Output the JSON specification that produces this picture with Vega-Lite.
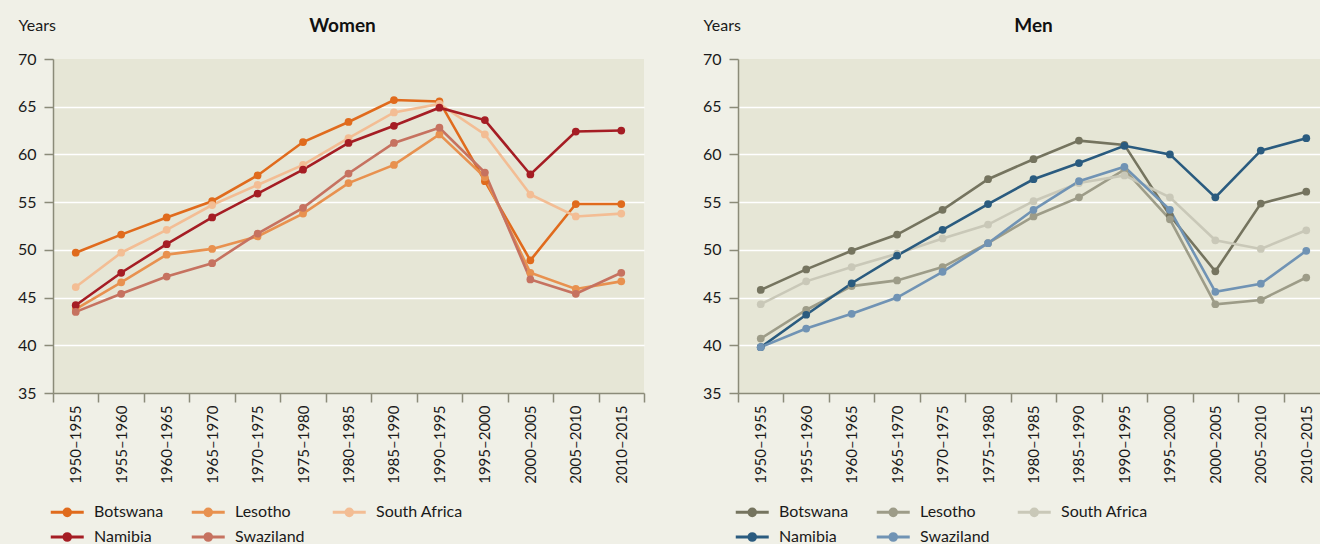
{
  "$schema": "https://vega.github.io/schema/vega-lite/v6.json",
  "background": "#f0f0e7",
  "padding": {"left": 17, "top": 17, "right": 5, "bottom": 0},
  "datasets": {
    "d": [
      {"sex":"Women","country":"Botswana","period":"1950–1955","years":49.7},
      {"sex":"Women","country":"Botswana","period":"1955–1960","years":51.6},
      {"sex":"Women","country":"Botswana","period":"1960–1965","years":53.4},
      {"sex":"Women","country":"Botswana","period":"1965–1970","years":55.1},
      {"sex":"Women","country":"Botswana","period":"1970–1975","years":57.8},
      {"sex":"Women","country":"Botswana","period":"1975–1980","years":61.3},
      {"sex":"Women","country":"Botswana","period":"1980–1985","years":63.4},
      {"sex":"Women","country":"Botswana","period":"1985–1990","years":65.7},
      {"sex":"Women","country":"Botswana","period":"1990–1995","years":65.55},
      {"sex":"Women","country":"Botswana","period":"1995–2000","years":57.2},
      {"sex":"Women","country":"Botswana","period":"2000–2005","years":48.9},
      {"sex":"Women","country":"Botswana","period":"2005–2010","years":54.8},
      {"sex":"Women","country":"Botswana","period":"2010–2015","years":54.8},
      {"sex":"Women","country":"Lesotho","period":"1950–1955","years":43.8},
      {"sex":"Women","country":"Lesotho","period":"1955–1960","years":46.6},
      {"sex":"Women","country":"Lesotho","period":"1960–1965","years":49.5},
      {"sex":"Women","country":"Lesotho","period":"1965–1970","years":50.1},
      {"sex":"Women","country":"Lesotho","period":"1970–1975","years":51.4},
      {"sex":"Women","country":"Lesotho","period":"1975–1980","years":53.8},
      {"sex":"Women","country":"Lesotho","period":"1980–1985","years":57.0},
      {"sex":"Women","country":"Lesotho","period":"1985–1990","years":58.9},
      {"sex":"Women","country":"Lesotho","period":"1990–1995","years":62.1},
      {"sex":"Women","country":"Lesotho","period":"1995–2000","years":57.6},
      {"sex":"Women","country":"Lesotho","period":"2000–2005","years":47.6},
      {"sex":"Women","country":"Lesotho","period":"2005–2010","years":45.9},
      {"sex":"Women","country":"Lesotho","period":"2010–2015","years":46.7},
      {"sex":"Women","country":"South Africa","period":"1950–1955","years":46.1},
      {"sex":"Women","country":"South Africa","period":"1955–1960","years":49.7},
      {"sex":"Women","country":"South Africa","period":"1960–1965","years":52.1},
      {"sex":"Women","country":"South Africa","period":"1965–1970","years":54.7},
      {"sex":"Women","country":"South Africa","period":"1970–1975","years":56.8},
      {"sex":"Women","country":"South Africa","period":"1975–1980","years":58.9},
      {"sex":"Women","country":"South Africa","period":"1980–1985","years":61.7},
      {"sex":"Women","country":"South Africa","period":"1985–1990","years":64.4},
      {"sex":"Women","country":"South Africa","period":"1990–1995","years":65.3},
      {"sex":"Women","country":"South Africa","period":"1995–2000","years":62.1},
      {"sex":"Women","country":"South Africa","period":"2000–2005","years":55.8},
      {"sex":"Women","country":"South Africa","period":"2005–2010","years":53.5},
      {"sex":"Women","country":"South Africa","period":"2010–2015","years":53.8},
      {"sex":"Women","country":"Namibia","period":"1950–1955","years":44.2},
      {"sex":"Women","country":"Namibia","period":"1955–1960","years":47.6},
      {"sex":"Women","country":"Namibia","period":"1960–1965","years":50.6},
      {"sex":"Women","country":"Namibia","period":"1965–1970","years":53.4},
      {"sex":"Women","country":"Namibia","period":"1970–1975","years":55.9},
      {"sex":"Women","country":"Namibia","period":"1975–1980","years":58.4},
      {"sex":"Women","country":"Namibia","period":"1980–1985","years":61.2},
      {"sex":"Women","country":"Namibia","period":"1985–1990","years":63.0},
      {"sex":"Women","country":"Namibia","period":"1990–1995","years":64.9},
      {"sex":"Women","country":"Namibia","period":"1995–2000","years":63.6},
      {"sex":"Women","country":"Namibia","period":"2000–2005","years":57.9},
      {"sex":"Women","country":"Namibia","period":"2005–2010","years":62.4},
      {"sex":"Women","country":"Namibia","period":"2010–2015","years":62.5},
      {"sex":"Women","country":"Swaziland","period":"1950–1955","years":43.5},
      {"sex":"Women","country":"Swaziland","period":"1955–1960","years":45.4},
      {"sex":"Women","country":"Swaziland","period":"1960–1965","years":47.2},
      {"sex":"Women","country":"Swaziland","period":"1965–1970","years":48.6},
      {"sex":"Women","country":"Swaziland","period":"1970–1975","years":51.7},
      {"sex":"Women","country":"Swaziland","period":"1975–1980","years":54.4},
      {"sex":"Women","country":"Swaziland","period":"1980–1985","years":58.0},
      {"sex":"Women","country":"Swaziland","period":"1985–1990","years":61.2},
      {"sex":"Women","country":"Swaziland","period":"1990–1995","years":62.8},
      {"sex":"Women","country":"Swaziland","period":"1995–2000","years":58.1},
      {"sex":"Women","country":"Swaziland","period":"2000–2005","years":46.9},
      {"sex":"Women","country":"Swaziland","period":"2005–2010","years":45.4},
      {"sex":"Women","country":"Swaziland","period":"2010–2015","years":47.6},
      {"sex":"Men","country":"Botswana","period":"1950–1955","years":45.8},
      {"sex":"Men","country":"Botswana","period":"1955–1960","years":47.95},
      {"sex":"Men","country":"Botswana","period":"1960–1965","years":49.9},
      {"sex":"Men","country":"Botswana","period":"1965–1970","years":51.6},
      {"sex":"Men","country":"Botswana","period":"1970–1975","years":54.2},
      {"sex":"Men","country":"Botswana","period":"1975–1980","years":57.4},
      {"sex":"Men","country":"Botswana","period":"1980–1985","years":59.5},
      {"sex":"Men","country":"Botswana","period":"1985–1990","years":61.45},
      {"sex":"Men","country":"Botswana","period":"1990–1995","years":61.0},
      {"sex":"Men","country":"Botswana","period":"1995–2000","years":53.6},
      {"sex":"Men","country":"Botswana","period":"2000–2005","years":47.75},
      {"sex":"Men","country":"Botswana","period":"2005–2010","years":54.85},
      {"sex":"Men","country":"Botswana","period":"2010–2015","years":56.1},
      {"sex":"Men","country":"Lesotho","period":"1950–1955","years":40.7},
      {"sex":"Men","country":"Lesotho","period":"1955–1960","years":43.7},
      {"sex":"Men","country":"Lesotho","period":"1960–1965","years":46.2},
      {"sex":"Men","country":"Lesotho","period":"1965–1970","years":46.8},
      {"sex":"Men","country":"Lesotho","period":"1970–1975","years":48.2},
      {"sex":"Men","country":"Lesotho","period":"1975–1980","years":50.7},
      {"sex":"Men","country":"Lesotho","period":"1980–1985","years":53.5},
      {"sex":"Men","country":"Lesotho","period":"1985–1990","years":55.5},
      {"sex":"Men","country":"Lesotho","period":"1990–1995","years":58.4},
      {"sex":"Men","country":"Lesotho","period":"1995–2000","years":53.2},
      {"sex":"Men","country":"Lesotho","period":"2000–2005","years":44.3},
      {"sex":"Men","country":"Lesotho","period":"2005–2010","years":44.75},
      {"sex":"Men","country":"Lesotho","period":"2010–2015","years":47.1},
      {"sex":"Men","country":"South Africa","period":"1950–1955","years":44.3},
      {"sex":"Men","country":"South Africa","period":"1955–1960","years":46.7},
      {"sex":"Men","country":"South Africa","period":"1960–1965","years":48.2},
      {"sex":"Men","country":"South Africa","period":"1965–1970","years":49.6},
      {"sex":"Men","country":"South Africa","period":"1970–1975","years":51.2},
      {"sex":"Men","country":"South Africa","period":"1975–1980","years":52.65},
      {"sex":"Men","country":"South Africa","period":"1980–1985","years":55.1},
      {"sex":"Men","country":"South Africa","period":"1985–1990","years":57.0},
      {"sex":"Men","country":"South Africa","period":"1990–1995","years":57.8},
      {"sex":"Men","country":"South Africa","period":"1995–2000","years":55.5},
      {"sex":"Men","country":"South Africa","period":"2000–2005","years":51.0},
      {"sex":"Men","country":"South Africa","period":"2005–2010","years":50.1},
      {"sex":"Men","country":"South Africa","period":"2010–2015","years":52.05},
      {"sex":"Men","country":"Namibia","period":"1950–1955","years":39.8},
      {"sex":"Men","country":"Namibia","period":"1955–1960","years":43.2},
      {"sex":"Men","country":"Namibia","period":"1960–1965","years":46.5},
      {"sex":"Men","country":"Namibia","period":"1965–1970","years":49.4},
      {"sex":"Men","country":"Namibia","period":"1970–1975","years":52.1},
      {"sex":"Men","country":"Namibia","period":"1975–1980","years":54.8},
      {"sex":"Men","country":"Namibia","period":"1980–1985","years":57.4},
      {"sex":"Men","country":"Namibia","period":"1985–1990","years":59.1},
      {"sex":"Men","country":"Namibia","period":"1990–1995","years":60.9},
      {"sex":"Men","country":"Namibia","period":"1995–2000","years":60.0},
      {"sex":"Men","country":"Namibia","period":"2000–2005","years":55.5},
      {"sex":"Men","country":"Namibia","period":"2005–2010","years":60.4},
      {"sex":"Men","country":"Namibia","period":"2010–2015","years":61.7},
      {"sex":"Men","country":"Swaziland","period":"1950–1955","years":39.8},
      {"sex":"Men","country":"Swaziland","period":"1955–1960","years":41.75},
      {"sex":"Men","country":"Swaziland","period":"1960–1965","years":43.3},
      {"sex":"Men","country":"Swaziland","period":"1965–1970","years":45.0},
      {"sex":"Men","country":"Swaziland","period":"1970–1975","years":47.7},
      {"sex":"Men","country":"Swaziland","period":"1975–1980","years":50.7},
      {"sex":"Men","country":"Swaziland","period":"1980–1985","years":54.2},
      {"sex":"Men","country":"Swaziland","period":"1985–1990","years":57.2},
      {"sex":"Men","country":"Swaziland","period":"1990–1995","years":58.7},
      {"sex":"Men","country":"Swaziland","period":"1995–2000","years":54.2},
      {"sex":"Men","country":"Swaziland","period":"2000–2005","years":45.6},
      {"sex":"Men","country":"Swaziland","period":"2005–2010","years":46.45},
      {"sex":"Men","country":"Swaziland","period":"2010–2015","years":49.9}
    ]
  },
  "config": {
    "font": "Lato",
    "view": {"fill": "#e6e6d6", "stroke": null},
    "title": {"fontSize": 19, "fontWeight": "bold", "color": "#111111", "anchor": "middle", "frame": "group"},
    "axisY": {
      "domainColor": "#8b8b79", "domainWidth": 1.5, "tickColor": "#8b8b79", "tickWidth": 1.5, "tickSize": 9,
      "labelFontSize": 16, "labelColor": "#1a1a1a", "labelPadding": 8,
      "grid": true, "gridColor": "#ffffff", "gridWidth": 1.5,
      "gridOpacity": {"condition": {"test": "datum.value === 70 || datum.value === 35", "value": 0}, "value": 1},
      "titleAngle": 0, "titleAlign": "left", "titleBaseline": "middle", "titleFontSize": 16, "titleFontWeight": "normal", "titleColor": "#1a1a1a",
      "titleX": -35, "titleY": -34
    },
    "axisX": {
      "domainColor": "#8b8b79", "domainWidth": 1.5, "tickColor": "#8b8b79", "tickWidth": 1.5, "tickSize": 9,
      "labelFontSize": 15, "labelColor": "#1a1a1a", "labelAngle": -90, "labelAlign": "right", "labelBaseline": "middle",
      "labelPadding": 3, "tickBand": "extent", "grid": false, "title": null
    },
    "legend": {
      "orient": "bottom", "columns": 3, "title": null, "padding": 0,
      "symbolType": "M-1,0H3M0.6,0A0.4,0.4 0 1,0 1.4,0A0.4,0.4 0 1,0 0.6,0Z",
      "symbolSize": 272, "symbolStrokeWidth": 3, "symbolOffset": -4,
      "labelFontSize": 16, "labelColor": "#1a1a1a", "labelOffset": 25,
      "columnPadding": 21, "rowPadding": 5, "offset": 18
    }
  },
  "bounds": "flush",
  "spacing": 94,
  "resolve": {"scale": {"color": "independent"}},
  "hconcat": [
    {
      "width": 591, "height": 334,
      "title": {"text": "Women", "offset": -19, "dx": -6},
      "data": {"name": "d"},
      "transform": [{"filter": "datum.sex === 'Women'"}],
      "encoding": {
        "x": {"field": "period", "type": "ordinal", "scale": {"type": "band", "paddingInner": 0, "paddingOuter": 0}},
        "y": {"field": "years", "type": "quantitative", "scale": {"domain": [35, 70], "nice": false, "zero": false},
              "axis": {"values": [35, 40, 45, 50, 55, 60, 65, 70], "title": "Years"}},
        "color": {"field": "country", "type": "nominal",
                  "scale": {"domain": ["Botswana", "Lesotho", "South Africa", "Namibia", "Swaziland"],
                            "range": ["#e06b1d", "#e8914f", "#f3bd94", "#a51d24", "#c67260"]}}
      },
      "layer": [
        {"mark": {"type": "line", "strokeWidth": 2.6}},
        {"mark": {"type": "circle", "size": 60, "opacity": 1}}
      ]
    },
    {
      "width": 591, "height": 334,
      "title": {"text": "Men", "offset": -19},
      "data": {"name": "d"},
      "transform": [{"filter": "datum.sex === 'Men'"}],
      "encoding": {
        "x": {"field": "period", "type": "ordinal", "scale": {"type": "band", "paddingInner": 0, "paddingOuter": 0}},
        "y": {"field": "years", "type": "quantitative", "scale": {"domain": [35, 70], "nice": false, "zero": false},
              "axis": {"values": [35, 40, 45, 50, 55, 60, 65, 70], "title": "Years"}},
        "color": {"field": "country", "type": "nominal",
                  "scale": {"domain": ["Botswana", "Lesotho", "South Africa", "Namibia", "Swaziland"],
                            "range": ["#75745f", "#9d9c88", "#c9c8b8", "#2a5b7f", "#7093b4"]}}
      },
      "layer": [
        {"mark": {"type": "line", "strokeWidth": 2.6}},
        {"mark": {"type": "circle", "size": 60, "opacity": 1}}
      ]
    }
  ]
}
